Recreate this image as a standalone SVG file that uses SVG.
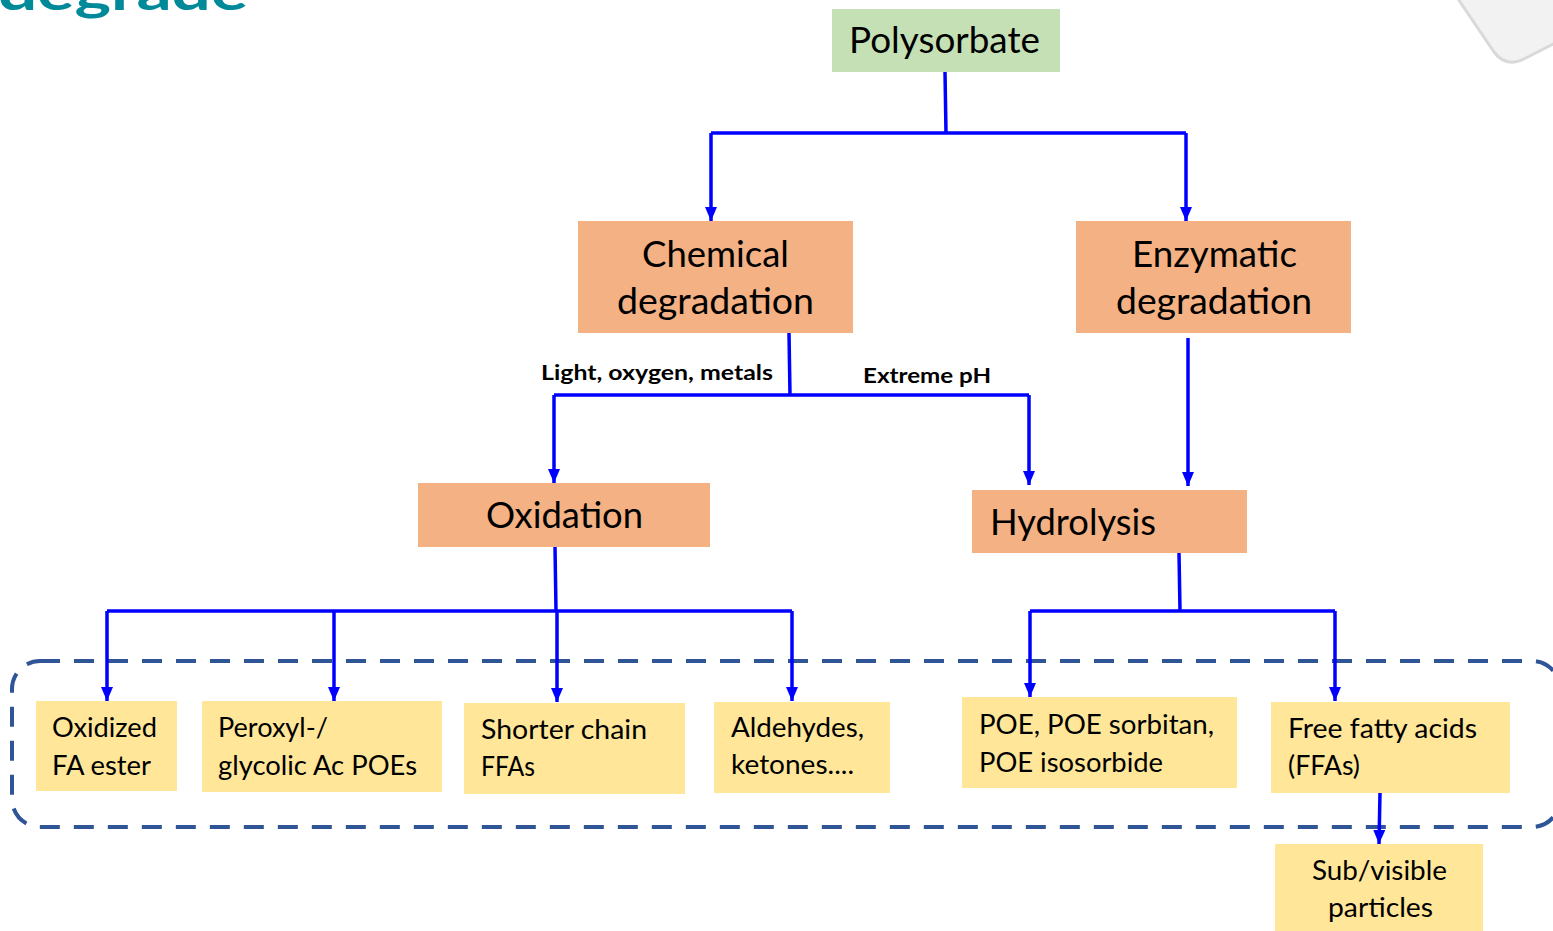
<svg xmlns="http://www.w3.org/2000/svg" width="1553" height="931" viewBox="0 0 1553 931">
<defs>
<style>
.t{font-family:Lato,"Noto Sans","Liberation Sans",sans-serif;fill:#000}
.big{font-size:36px}
.leaf{font-size:26px}
.lbl{font-size:21px;font-weight:bold}
.green{fill:#C5E0B4}
.orange{fill:#F4B183}
.yellow{fill:#FFE699}
.c{fill:none;stroke:#0000FF;stroke-width:3.5}
</style>
<marker id="ah" viewBox="0 0 12 14" refX="6" refY="14" markerWidth="12" markerHeight="14" markerUnits="userSpaceOnUse" orient="auto-start-reverse">
<path d="M0,0 L12,0 L6,14 Z" fill="#0000FF" transform="rotate(-90 6 7)"/>
</marker>
<marker id="arr" viewBox="0 0 14 12" refX="14" refY="6" markerWidth="14" markerHeight="12" markerUnits="userSpaceOnUse" orient="auto">
<path d="M0,0 L14,6 L0,12 Z" fill="#0000FF"/>
</marker>
</defs>
<rect width="1553" height="931" fill="#FFFFFF"/>
<text x="-2" y="10" font-family="Lato,'Noto Sans',sans-serif" font-weight="bold" font-size="50" fill="#008A99" textLength="250" lengthAdjust="spacingAndGlyphs">degrade</text>
<path d="M1452,-10 L1494,52 Q1506,68 1524,59 L1565,38 L1565,-10 Z" fill="#F2F2F2" stroke="#D9D9D9" stroke-width="3"/>
<rect id="dashed-group" x="12" y="661" width="1548" height="166" rx="28" fill="none" stroke="#2F5597" stroke-width="4" stroke-dasharray="20 14"/>
<g id="connectors">
<path class="c" d="M945,72 L946,133"/>
<path class="c" d="M711,133 L1186,133"/>
<path class="c" d="M711,133 L711,221" marker-end="url(#arr)"/>
<path class="c" d="M1186,133 L1186,221" marker-end="url(#arr)"/>
<path class="c" d="M789,333 L790,395"/>
<path class="c" d="M554,395 L1029,395"/>
<path class="c" d="M554,395 L554,483" marker-end="url(#arr)"/>
<path class="c" d="M1029,395 L1029,485" marker-end="url(#arr)"/>
<path class="c" d="M1188,338 L1188,486" marker-end="url(#arr)"/>
<path class="c" d="M555,547 L556,611"/>
<path class="c" d="M107,611 L792,611"/>
<path class="c" d="M107,611 L107,701" marker-end="url(#arr)"/>
<path class="c" d="M334,611 L334,701" marker-end="url(#arr)"/>
<path class="c" d="M557,611 L557,702" marker-end="url(#arr)"/>
<path class="c" d="M792,611 L792,701" marker-end="url(#arr)"/>
<path class="c" d="M1179,553 L1180,611"/>
<path class="c" d="M1030,611 L1335,611"/>
<path class="c" d="M1030,611 L1030,697" marker-end="url(#arr)"/>
<path class="c" d="M1335,611 L1335,701" marker-end="url(#arr)"/>
<path class="c" d="M1380,792 L1379,844" marker-end="url(#arr)"/>
<text class="t lbl" x="541" y="380" textLength="232" lengthAdjust="spacingAndGlyphs">Light, oxygen, metals</text>
<text class="t lbl" x="863" y="383" textLength="128" lengthAdjust="spacingAndGlyphs">Extreme pH</text>
</g>
<g id="polysorbate">
<rect class="green" x="832" y="9" width="228" height="63"/>
<text class="t big" x="849" y="53" textLength="191" lengthAdjust="spacingAndGlyphs">Polysorbate</text>
</g>
<g id="chemical">
<rect class="orange" x="578" y="221" width="275" height="112"/>
<text class="t big" x="642" y="267" textLength="147" lengthAdjust="spacingAndGlyphs">Chemical</text>
<text class="t big" x="617" y="314" textLength="197" lengthAdjust="spacingAndGlyphs">degradation</text>
</g>
<g id="enzymatic">
<rect class="orange" x="1076" y="221" width="275" height="112"/>
<text class="t big" x="1132" y="267" textLength="165" lengthAdjust="spacingAndGlyphs">Enzymatic</text>
<text class="t big" x="1116" y="314" textLength="196" lengthAdjust="spacingAndGlyphs">degradation</text>
</g>
<g id="oxidation">
<rect class="orange" x="418" y="483" width="292" height="64"/>
<text class="t big" x="486" y="528" textLength="157" lengthAdjust="spacingAndGlyphs">Oxidation</text>
</g>
<g id="hydrolysis">
<rect class="orange" x="972" y="490" width="275" height="63"/>
<text class="t big" x="990" y="535" textLength="166" lengthAdjust="spacingAndGlyphs">Hydrolysis</text>
</g>
<g id="oxidized-fa-ester">
<rect class="yellow" x="36" y="701" width="141" height="90"/>
<text class="t leaf" x="52" y="737" textLength="105" lengthAdjust="spacingAndGlyphs">Oxidized</text>
<text class="t leaf" x="52" y="775" textLength="99" lengthAdjust="spacingAndGlyphs">FA ester</text>
</g>
<g id="peroxyl">
<rect class="yellow" x="202" y="701" width="240" height="91"/>
<text class="t leaf" x="218" y="737" textLength="110" lengthAdjust="spacingAndGlyphs">Peroxyl-/</text>
<text class="t leaf" x="218" y="775" textLength="199" lengthAdjust="spacingAndGlyphs">glycolic Ac POEs</text>
</g>
<g id="shorter-chain">
<rect class="yellow" x="464" y="703" width="221" height="91"/>
<text class="t leaf" x="481" y="739" textLength="166" lengthAdjust="spacingAndGlyphs">Shorter chain</text>
<text class="t leaf" x="481" y="776" textLength="54" lengthAdjust="spacingAndGlyphs">FFAs</text>
</g>
<g id="aldehydes">
<rect class="yellow" x="714" y="702" width="176" height="91"/>
<text class="t leaf" x="731" y="737" textLength="133" lengthAdjust="spacingAndGlyphs">Aldehydes,</text>
<text class="t leaf" x="731" y="774" textLength="123" lengthAdjust="spacingAndGlyphs">ketones....</text>
</g>
<g id="poe">
<rect class="yellow" x="962" y="697" width="275" height="91"/>
<text class="t leaf" x="979" y="734" textLength="235" lengthAdjust="spacingAndGlyphs">POE, POE sorbitan,</text>
<text class="t leaf" x="979" y="772" textLength="184" lengthAdjust="spacingAndGlyphs">POE isosorbide</text>
</g>
<g id="ffa">
<rect class="yellow" x="1271" y="702" width="239" height="91"/>
<text class="t leaf" x="1288" y="738" textLength="189" lengthAdjust="spacingAndGlyphs">Free fatty acids</text>
<text class="t leaf" x="1288" y="775" textLength="72" lengthAdjust="spacingAndGlyphs">(FFAs)</text>
</g>
<g id="particles">
<rect class="yellow" x="1275" y="844" width="208" height="90"/>
<text class="t leaf" x="1312" y="880" textLength="135" lengthAdjust="spacingAndGlyphs">Sub/visible</text>
<text class="t leaf" x="1328" y="917" textLength="105" lengthAdjust="spacingAndGlyphs">particles</text>
</g>
</svg>
